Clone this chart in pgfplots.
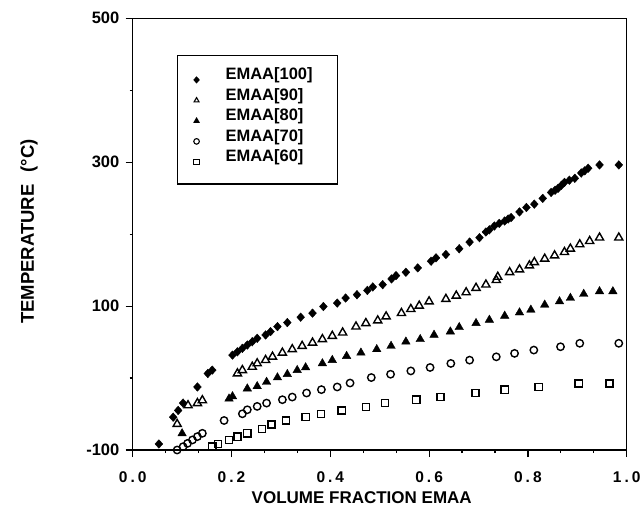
\documentclass[border=0pt]{standalone}
\usepackage{fontspec}
\setmainfont{Liberation Sans}
\usepackage{pgfplots}
\pgfplotsset{compat=1.18}
\begin{document}
\begin{tikzpicture}
\useasboundingbox (0,0) rectangle (642bp,507bp);
\begin{axis}[
  at={(132.7bp,57bp)}, anchor=south west,
  scale only axis, width=494bp, height=431.7bp,
  xmin=0, xmax=1, ymin=-100, ymax=500,
  axis line style={line width=1.2bp},
  xtick={0,0.2,0.4,0.6,0.8,1.0},
  xticklabels={0\kern3bp.\kern3bp0,0\kern3bp.\kern3bp2,0\kern3bp.\kern3bp4,0\kern3bp.\kern3bp6,0\kern3bp.\kern3bp8,1\kern3bp.\kern3bp0},
  minor x tick num=2,
  ytick={-100,100,300,500},
  yticklabels={-100,100,300,500},
  minor ytick={0,200,400},
  tick align=outside, xtick pos=bottom, ytick pos=left,
  major tick length=7bp, minor tick length=3bp,
  tick style={line width=1.2bp, black},
  xticklabel style={font=\fontsize{15.5bp}{17bp}\selectfont\bfseries, anchor=center, yshift=-20bp, inner sep=0bp},
  yticklabel style={font=\fontsize{16.5bp}{18bp}\selectfont\bfseries, anchor=east, xshift=-6.2bp, inner sep=0bp},
  xlabel={VOLUME FRACTION EMAA},
  xlabel style={at={(axis description cs:0.4636,-0.1245)}, anchor=base, inner sep=0bp, font=\fontsize{17bp}{19bp}\selectfont\bfseries},
  ylabel={TEMPERATURE\hspace{12bp}(°C)},
  ylabel style={at={(axis description cs:-0.2099,0.506)}, anchor=center, font=\fontsize{18.5bp}{20bp}\selectfont\bfseries},
  legend style={at={(0.089,0.915)}, anchor=north west, draw=black, line width=1.2bp,
    inner xsep=0bp, inner ysep=12.3bp, row sep=2.5bp, column sep=0bp,
    nodes={inner sep=0bp, text height=12bp, text depth=3bp},
    font=\fontsize{16.5bp}{18bp}\selectfont\bfseries, cells={anchor=base west}},
  legend image code/.code={\path[draw=none,fill=none] (-19.3bp,-6bp) rectangle (29bp,0bp);
    \draw[#1, mark size=2.8bp, line width=1.1bp] plot coordinates {(0bp,0bp)};},
]
% EMAA[100]
\addplot[only marks, mark=diamond*, mark size=4.3bp, black, mark options={xscale=1.2}] coordinates {
(0.053,-91.6)(0.082,-54.4)(0.092,-45)(0.102,-34.8)(0.131,-12.4)(0.152,6.3)(0.161,11)
(0.202,31.9)(0.212,36.5)(0.222,41.3)(0.232,45.9)(0.242,50.5)(0.252,55.2)(0.269,59.9)(0.279,64.5)(0.293,71.5)
(0.313,77.1)(0.340,84.6)(0.364,90.2)(0.386,99.4)(0.414,104.2)(0.431,111.2)(0.454,115.8)(0.475,121.8)(0.486,126.6)
(0.506,129.8)(0.524,137.8)(0.533,142.4)(0.553,147)(0.577,153.1)(0.604,162.4)(0.614,167.1)(0.634,171.7)(0.661,179.7)
(0.682,189)(0.702,195.1)(0.715,203)(0.722,206)(0.732,211.3)(0.742,215)(0.753,218.3)(0.760,221)(0.766,223.1)(0.783,230.9)
(0.797,237.1)(0.813,241.7)(0.830,249.7)(0.847,258)(0.855,261)(0.861,263.6)(0.868,268)(0.874,272)(0.884,275)(0.895,277.6)
(0.908,285)(0.915,288)(0.922,291.6)(0.945,296.2)(0.984,296.2)
};
\addlegendentry{EMAA[100]\rule{24.7bp}{0bp}}
% EMAA[90]
\addplot[only marks, mark=triangle, mark size=4.7bp, black, line width=1.4bp] coordinates {
(0.090,-64)(0.112,-38)(0.131,-35)(0.141,-31)(0.212,6.3)(0.222,10.9)(0.242,15.5)(0.252,20.3)(0.269,24.9)
(0.283,29.5)(0.303,35.1)(0.323,39.9)(0.343,44.5)(0.364,49.1)(0.384,53.9)(0.404,58.5)(0.425,63.1)(0.452,71.5)
(0.472,76.2)(0.496,79.9)(0.513,85.5)(0.544,90.2)(0.563,95.8)(0.580,100.4)(0.600,106.4)(0.634,109.8)(0.655,114.4)
(0.675,119)(0.695,125.2)(0.715,129.8)(0.736,136)(0.739,140.6)(0.763,147)(0.783,150.8)(0.803,156.4)(0.813,161)
(0.834,165.7)(0.854,170.3)(0.874,175)(0.886,179.7)(0.905,185.7)(0.925,190.3)(0.945,195.1)(0.984,195.1)
};
\addlegendentry{EMAA[90]}
% EMAA[80]
\addplot[only marks, mark=triangle*, mark size=4.9bp, black] coordinates {
(0.100,-77)(0.195,-28.7)(0.202,-25.5)(0.232,-14.7)(0.252,-11.5)(0.271,-5.5)(0.293,0.7)(0.313,5.3)(0.333,10.9)
(0.350,14.7)(0.384,20.3)(0.404,24.9)(0.433,30.5)(0.462,35.1)(0.494,39.9)(0.523,44.5)(0.553,50.5)(0.582,53.9)
(0.610,59.9)(0.643,64.5)(0.661,70.6)(0.695,76.2)(0.722,80.8)(0.753,86.4)(0.783,91)(0.806,94.8)(0.834,101.8)
(0.864,106.4)(0.886,111.2)(0.913,116.8)(0.945,120.4)(0.972,120.4)
};
\addlegendentry{EMAA[80]}
% EMAA[70]
\addplot[only marks, mark=o, mark size=3.7bp, black, line width=1.4bp] coordinates {
(0.090,-100)(0.102,-95.4)(0.111,-90.8)(0.121,-86)(0.131,-81.4)(0.141,-76.8)(0.185,-59)(0.222,-49.7)(0.232,-44.1)
(0.252,-39.4)(0.271,-34.8)(0.303,-30.1)(0.323,-26.4)(0.352,-20.8)(0.382,-16.1)(0.414,-12.4)(0.440,-6.9)(0.483,0.7)
(0.522,5.3)(0.563,9.9)(0.602,14.7)(0.644,20.3)(0.682,24.9)(0.736,29.5)(0.773,34.3)(0.812,38.9)(0.866,43.5)
(0.905,48.3)(0.984,48.3)
};
\addlegendentry{EMAA[70]}
% EMAA[60]
\addplot[only marks, mark=square, mark size=3.6bp, black, line width=1.4bp] coordinates {
(0.161,-95.4)(0.173,-91.6)(0.195,-86)(0.212,-81.4)(0.232,-76.8)(0.262,-70.6)(0.281,-64.6)(0.310,-59)(0.350,-54.4)
(0.381,-49.7)(0.423,-45)(0.472,-40.4)(0.511,-34.8)(0.574,-30.1)(0.623,-26.4)(0.694,-20.8)(0.753,-16.1)(0.822,-12.4)
(0.903,-7.7)(0.965,-7.7)
};
\addlegendentry[text depth=9.7bp]{EMAA[60]}
\end{axis}
\end{tikzpicture}
\end{document}
